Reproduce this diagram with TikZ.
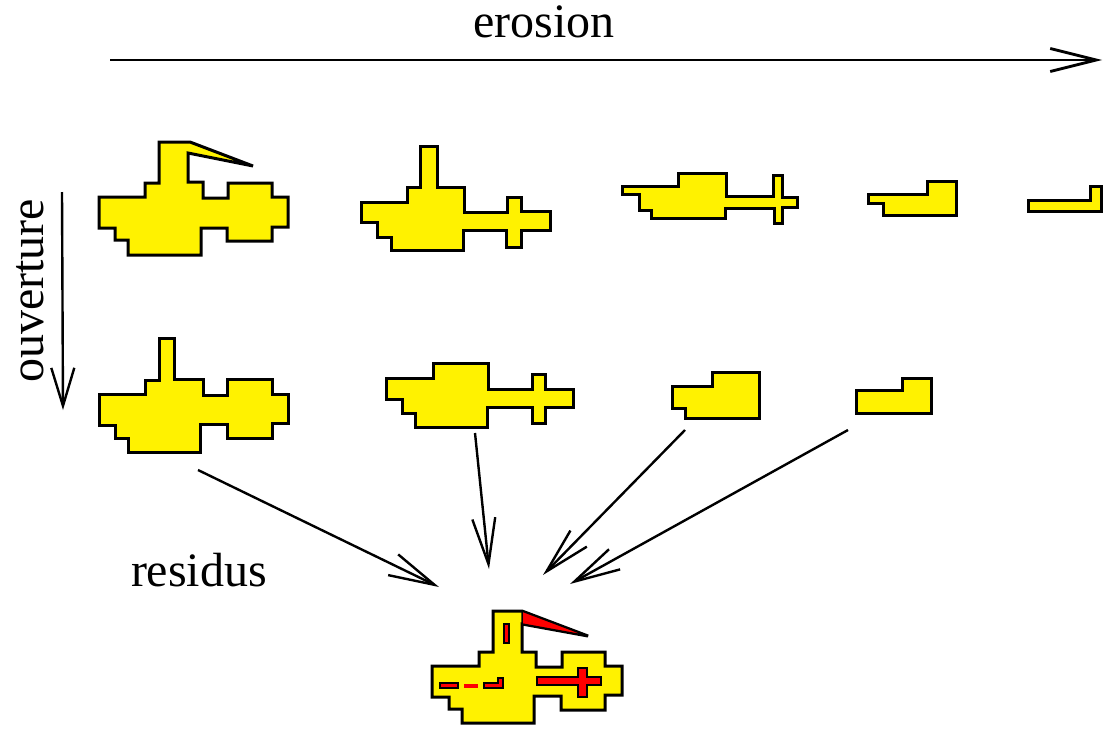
\documentclass[tikz,border=0pt]{standalone}
\usepackage{fontspec}
\setmainfont{Liberation Serif}
\usetikzlibrary{arrows, arrows.meta}

\tikzset{
  forme/.style={draw=black, fill=yellow, line width=3pt, line join=miter},
  residu/.style={draw=black, fill=red, line width=1.5pt},
  fleche/.style={-{Straight Barb[length=46pt, width=23pt]}, line width=2.4pt},
  titre/.style={font=\fontsize{48}{56}\selectfont, inner sep=0pt}
}

\begin{document}
\begin{tikzpicture}[x=1pt, y=-1pt]
      \useasboundingbox (0,0) rectangle (1113,731);

      % titres
      \node[titre] (erosion) at (544,22) {erosion};
      \node[titre, rotate=90] (ouverture) at (30,291) {ouverture};
      \node[titre] (residus) at (199,570) {residus};

      % extremites des fleches
      \coordinate (e1) at (110,60);
      \coordinate (e2) at (1102,60);
      \coordinate (o1) at (62,192);
      \coordinate (o2) at (63,410);
      \coordinate (r1) at (198,470);
      \coordinate (r2) at (475,433);
      \coordinate (r3) at (685,430);
      \coordinate (r4) at (848,430);
      \coordinate (c1) at (439,587);
      \coordinate (c2) at (489,569);
      \coordinate (c3) at (543,575);
      \coordinate (c4) at (570,584);

      % erosions successives
      \draw[forme] (159,142) -- (190,142) -- (253,166) -- (188,153) -- (188,182) -- (203,182) -- (203,198) -- (228,198) -- (228,183) -- (272,183) -- (272,197) -- (288,197) -- (288,227) -- (272,227) -- (272,241) -- (227,241) -- (227,228) -- (201,228) -- (201,255) -- (128,255) -- (128,240) -- (115,240) -- (115,228) -- (99,228) -- (99,197) -- (145,197) -- (145,183) -- (159,183) -- cycle;
      \draw[forme] (420,146) -- (437,146) -- (437,187) -- (464,187) -- (464,212) -- (507,212) -- (507,197) -- (521,197) -- (521,211) -- (550,211) -- (550,230) -- (521,230) -- (521,247) -- (506,247) -- (506,230) -- (463,230) -- (463,250) -- (391,250) -- (391,237) -- (377,237) -- (377,222) -- (361,222) -- (361,202) -- (407,202) -- (407,187) -- (420,187) -- cycle;
      \draw[forme] (622,186) -- (678,186) -- (678,173) -- (726,173) -- (726,196) -- (773,196) -- (773,175) -- (782,175) -- (782,197) -- (797,197) -- (797,207) -- (782,207) -- (782,223) -- (774,223) -- (774,208) -- (725,208) -- (725,218) -- (651,218) -- (651,210) -- (639,210) -- (639,194) -- (622,194) -- cycle;
      \draw[forme] (868,194) -- (927,194) -- (927,181) -- (956,181) -- (956,215) -- (883,215) -- (883,203) -- (868,203) -- cycle;
      \draw[forme] (1028,200) -- (1090,200) -- (1090,186) -- (1101,186) -- (1101,211) -- (1028,211) -- cycle;

      % ouvertures
      \draw[forme] (159,338) -- (174,338) -- (174,379) -- (203,379) -- (203,395) -- (227,395) -- (227,379) -- (272,379) -- (272,394) -- (288,394) -- (288,423) -- (272,423) -- (272,438) -- (227,438) -- (227,424) -- (200,424) -- (200,452) -- (128,452) -- (128,438) -- (115,438) -- (115,425) -- (99,425) -- (99,394) -- (145,394) -- (145,380) -- (159,380) -- cycle;
      \draw[forme] (386,378) -- (433,378) -- (433,363) -- (488,363) -- (488,389) -- (532,389) -- (532,374) -- (545,374) -- (545,389) -- (573,389) -- (573,407) -- (545,407) -- (545,423) -- (532,423) -- (532,407) -- (487,407) -- (487,427) -- (415,427) -- (415,413) -- (402,413) -- (402,399) -- (386,399) -- cycle;
      \draw[forme] (672,386) -- (712,386) -- (712,372) -- (759,372) -- (759,418) -- (685,418) -- (685,408) -- (672,408) -- cycle;
      \draw[forme] (856,390) -- (902,390) -- (902,378) -- (931,378) -- (931,413) -- (856,413) -- cycle;

      % squelette par residus
      \draw[forme] (493,611) -- (522,611) -- (588,636) -- (522,624) -- (522,652) -- (536,652) -- (536,667) -- (562,667) -- (562,652) -- (605,652) -- (605,666) -- (622,666) -- (622,695) -- (605,695) -- (605,710) -- (561,710) -- (561,696) -- (534,696) -- (534,723) -- (462,723) -- (462,709) -- (449,709) -- (449,697) -- (432,697) -- (432,666) -- (479,666) -- (479,652) -- (493,652) -- cycle;
      \draw[residu] (522,611) -- (588,636) -- (522,624) -- cycle;
      \draw[residu] (504,624) rectangle (509,643);
      \draw[residu] (440,683) rectangle (458,688);
      \fill[red] (464,684) rectangle (478,688);
      \draw[residu] (484,683) -- (498,683) -- (498,678) -- (503,678) -- (503,688) -- (484,688) -- cycle;
      \draw[residu] (537,677) -- (578,677) -- (578,668) -- (587,668) -- (587,677) -- (601,677) -- (601,685) -- (587,685) -- (587,697) -- (578,697) -- (578,685) -- (537,685) -- cycle;

      % fleches
      \draw[fleche, line width=2.8pt] (e1) -- (e2);
      \draw[fleche, -{Straight Barb[length=38pt, width=23pt]}] (o1) -- (o2);
      \draw[fleche] (r1) -- (c1);
      \draw[fleche] (r2) -- (c2);
      \draw[fleche] (r3) -- (c3);
      \draw[fleche] (r4) -- (c4);
    \end{tikzpicture}
\end{document}
